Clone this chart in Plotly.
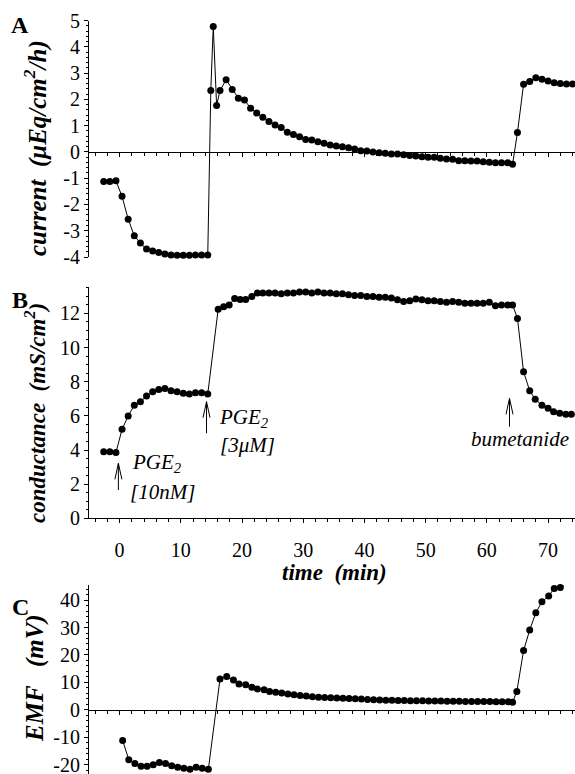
import plotly.graph_objects as go

# ---------------- data ----------------
A_time = [-2.6, -1.6, -0.6, 0.4, 1.4, 2.4, 3.4, 4.4, 5.4, 6.4, 7.4, 8.4, 9.4, 10.4, 11.4, 12.4, 13.4, 14.4,
          14.9, 15.3, 15.85, 16.4, 17.4, 18.4, 19.4, 20.4, 21.4, 22.4, 23.4, 24.4, 25.4,
          26.4, 27.4, 28.4, 29.4, 30.4, 31.4, 32.4, 33.4, 34.4, 35.4, 36.4, 37.4, 38.4, 39.4, 40.4,
          41.4, 42.4, 43.4, 44.4, 45.4, 46.4, 47.4, 48.4, 49.4, 50.4, 51.4, 52.4, 53.4, 54.4, 55.4,
          56.4, 57.4, 58.4, 59.4, 60.4, 61.4, 62.4, 63.4, 64.2,
          65.0, 66.0, 67.0, 68.0, 69.0, 70.0, 71.0, 72.0, 73.0, 74.0]
A_current = [-1.12, -1.12, -1.10, -1.69, -2.56, -3.19, -3.47, -3.70, -3.77, -3.83, -3.89, -3.92, -3.93, -3.93, -3.93, -3.92, -3.92, -3.92,
             2.34, 4.78, 1.77, 2.34, 2.75, 2.38, 2.05, 1.98, 1.67, 1.48, 1.32, 1.16, 1.03,
             0.93, 0.75, 0.67, 0.58, 0.48, 0.46, 0.39, 0.33, 0.27, 0.23, 0.20, 0.16, 0.11, 0.05, 0.04,
             0.00, -0.03, -0.05, -0.08, -0.08, -0.11, -0.13, -0.15, -0.18, -0.20, -0.20, -0.24, -0.27, -0.28, -0.33,
             -0.33, -0.34, -0.34, -0.37, -0.39, -0.41, -0.41, -0.41, -0.47,
             0.74, 2.58, 2.68, 2.83, 2.77, 2.70, 2.64, 2.61, 2.59, 2.59]

B_time = [-2.6, -1.6, -0.6, 0.4, 1.4, 2.4, 3.4, 4.4, 5.4, 6.4, 7.4, 8.4, 9.4, 10.4, 11.4, 12.4, 13.4, 14.4,
          16.1, 17.0, 17.9, 18.8, 19.7, 20.6, 21.6, 22.5,
          23.4, 24.4, 25.4, 26.4, 27.4, 28.4, 29.4, 30.4, 31.4, 32.4, 33.4, 34.4, 35.4, 36.4, 37.4,
          38.4, 39.4, 40.4, 41.4, 42.4, 43.4, 44.4, 45.4, 46.4, 47.4, 48.4, 49.4, 50.4, 51.4, 52.4,
          53.4, 54.4, 55.4, 56.4, 57.4, 58.4, 59.4, 60.4, 61.4, 62.4, 63.4, 64.2,
          65.0, 66.0, 67.0, 67.9, 69.0, 70.0, 70.9, 71.9, 72.9, 73.8]
B_conductance = [3.90, 3.90, 3.85, 5.21, 5.99, 6.63, 6.83, 7.16, 7.41, 7.55, 7.61, 7.47, 7.41, 7.32, 7.28, 7.35, 7.35, 7.28,
                 12.24, 12.39, 12.49, 12.88, 12.82, 12.82, 13.00, 13.20,
                 13.20, 13.20, 13.20, 13.15, 13.20, 13.20, 13.25, 13.25, 13.20, 13.25, 13.20, 13.20, 13.15, 13.15, 13.10,
                 13.05, 13.05, 13.00, 13.00, 12.95, 12.95, 12.90, 12.80, 12.70, 12.75, 12.85, 12.80, 12.75, 12.75, 12.70,
                 12.65, 12.70, 12.65, 12.60, 12.60, 12.60, 12.60, 12.65, 12.45, 12.50, 12.50, 12.50,
                 11.71, 8.58, 7.47, 6.97, 6.63, 6.44, 6.24, 6.15, 6.10, 6.10]

C_time = [0.5, 1.5, 2.5, 3.5, 4.5, 5.5, 6.5, 7.5, 8.5, 9.5, 10.5, 11.5, 12.5, 13.5, 14.5,
          16.4, 17.5, 18.6, 19.5, 20.6, 21.6, 22.5, 23.6, 24.5, 25.5, 26.5, 27.5, 28.5, 29.5, 30.5,
          31.5, 32.5, 33.5, 34.5, 35.5, 36.5, 37.5, 38.5, 39.5, 40.5, 41.5, 42.5, 43.5, 44.5, 45.5,
          46.5, 47.5, 48.5, 49.5, 50.5, 51.5, 52.5, 53.5, 54.5, 55.5, 56.5, 57.5, 58.5, 59.5, 60.5,
          61.5, 62.5, 63.5, 64.2,
          64.9, 66.0, 67.0, 68.0, 69.0, 70.1, 71.0, 72.0, 73.0, 73.9]
C_emf = [-11.2, -18.2, -19.6, -20.6, -20.6, -20.0, -19.2, -19.6, -20.4, -20.9, -21.3, -21.7, -20.9, -21.3, -21.7,
         11.2, 12.1, 10.9, 9.45, 9.1, 8.2, 7.6, 7.3, 6.7, 6.4, 6.1, 5.8, 5.5, 5.2, 5.0,
         4.8, 4.6, 4.5, 4.4, 4.3, 4.2, 4.1, 4.0, 3.9, 3.8, 3.7, 3.6, 3.5, 3.5, 3.4,
         3.4, 3.3, 3.3, 3.3, 3.2, 3.2, 3.2, 3.1, 3.1, 3.1, 3.0, 3.0, 3.0, 3.0, 3.0,
         2.9, 2.9, 2.9, 2.8,
         6.7, 21.6, 29.1, 35.4, 39.4, 41.5, 44.2, 44.6, 46.3, 46.3]

x_tickvals = [0, 10, 20, 30, 40, 50, 60, 70]
A_tickvals = [-4, -3, -2, -1, 0, 1, 2, 3, 4, 5]
B_tickvals = [0, 2, 4, 6, 8, 10, 12]
C_tickvals = [-20, -10, 0, 10, 20, 30, 40]

# event markers in panel B: (time, arrow head value, arrow tail value)
B_events = [(-0.2, 3.22, 1.66), (14.2, 6.83, 4.98), (63.7, 7.03, 5.37)]
B_labels = [(1.7, 3.24, "PGE<sub>2</sub>", "left"), (1.4, 1.54, "[10nM]", "left"),
            (15.9, 5.88, "PGE<sub>2</sub>", "left"), (16.1, 4.29, "[3\u03bcM]", "left"),
            (65.4, 4.62, "bumetanide", "center")]

# ---------------- layout geometry ----------------
W, H = 575, 774
AX_X = 89                     # x pixel of the y axes
X_RANGE = [-5, 74.4]
A_RANGE = [-4, 5]
B_RANGE = [0, 13.55]
C_RANGE = [-23.4, 45.5]
FONT = "Liberation Serif"


def yf(sy):
    """pixel y (from top) -> paper fraction"""
    return (H - sy) / H


def xf(sx):
    """pixel x -> paper fraction (plot area)"""
    return (sx - AX_X) / (W - AX_X)


A_dom = [yf(257), yf(20.7)]
B_dom = [yf(518.3), yf(287)]
C_dom = [0.0, yf(585)]


def zero_pos(dom, rng):
    return dom[0] + (0 - rng[0]) / (rng[1] - rng[0]) * (dom[1] - dom[0])


def ticktext(vals):
    return [str(v) for v in vals]


fig = go.Figure()
trace_style = dict(mode="lines+markers", line=dict(color="black", width=1),
                   marker=dict(color="black", size=7), cliponaxis=False, showlegend=False)
fig.add_trace(go.Scatter(x=A_time, y=A_current, xaxis="x", yaxis="y", **trace_style))
fig.add_trace(go.Scatter(x=B_time, y=B_conductance, xaxis="x2", yaxis="y2", **trace_style))
fig.add_trace(go.Scatter(x=C_time, y=C_emf, xaxis="x3", yaxis="y3", **trace_style))

tickfont = dict(family=FONT, size=20, color="black")
xcommon = dict(range=X_RANGE, domain=[0, 1], showline=True, linecolor="black", linewidth=1,
               ticks="outside", ticklen=4, tickcolor="black", tickvals=x_tickvals,
               ticktext=ticktext(x_tickvals), automargin=False,
               minor=dict(dtick=2, tick0=0, ticks="outside", ticklen=3, tickcolor="black"),
               showgrid=False, zeroline=False, tickfont=tickfont)
ycommon = dict(showline=True, linecolor="black", linewidth=1, ticks="outside", ticklen=4,
               tickcolor="black", showgrid=False, zeroline=False, tickfont=tickfont,
               automargin=False, ticklabeloverflow="allow")

fig.update_layout(
    width=W, height=H, margin=dict(l=AX_X, r=0, t=0, b=0, autoexpand=False),
    paper_bgcolor="white", plot_bgcolor="white",
    xaxis=dict(**xcommon, anchor="free", position=zero_pos(A_dom, A_RANGE), showticklabels=False),
    yaxis=dict(**ycommon, domain=A_dom, range=A_RANGE, anchor="x", tickvals=A_tickvals,
               ticktext=ticktext(A_tickvals),
               minor=dict(dtick=0.2, ticks="outside", ticklen=2, tickcolor="black")),
    xaxis2=dict(**xcommon, anchor="y2", showticklabels=True, ticklabelstandoff=10),
    yaxis2=dict(**ycommon, domain=B_dom, range=B_RANGE, anchor="x2", tickvals=B_tickvals,
                ticktext=ticktext(B_tickvals),
                minor=dict(dtick=0.5, ticks="outside", ticklen=2, tickcolor="black")),
    xaxis3=dict(**xcommon, anchor="free", position=zero_pos(C_dom, C_RANGE), showticklabels=False),
    yaxis3=dict(**ycommon, domain=C_dom, range=C_RANGE, anchor="x3", tickvals=C_tickvals,
                ticktext=ticktext(C_tickvals),
                minor=dict(dtick=2, ticks="outside", ticklen=2, tickcolor="black")),
)

ann = []
# panel letters
for letter, sy in [("A", 25), ("B", 300), ("C", 607)]:
    ann.append(dict(text="<b>%s</b>" % letter, x=xf(20), y=yf(sy), xref="paper", yref="paper",
                    xanchor="center", yanchor="middle",
                    showarrow=False, font=dict(family=FONT, size=24, color="black")))
# axis titles
titles = [("<b><i>current  (\u03bcEq/cm<sup>2</sup>/h)</i></b>", 148, 25),
          ("<b><i>conductance  (mS/cm<sup>2</sup>)</i></b>", 413, 23),
          ("<b><i>EMF \u00a0 (mV)</i></b>", 678, 25)]
for txt, sy, fs in titles:
    ann.append(dict(text=txt, x=xf(35), y=yf(sy), xref="paper", yref="paper", textangle=-90,
                    xanchor="center", yanchor="middle",
                    showarrow=False, font=dict(family=FONT, size=fs, color="black")))
ann.append(dict(text="<b><i>time  (min)</i></b>", x=xf(334), y=yf(572), xref="paper", yref="paper",
                xanchor="center", yanchor="middle",
                showarrow=False, font=dict(family=FONT, size=23, color="black")))
# panel B labels
for x, y, txt, anc in B_labels:
    ann.append(dict(text="<i>%s</i>" % txt, x=x, y=y, xref="x2", yref="y2", xanchor=anc,
                    yanchor="middle",
                    showarrow=False, font=dict(family=FONT, size=21, color="black")))
fig.update_layout(annotations=ann)

# arrows in panel B (open V heads)
px_per_min = (W - AX_X) / (X_RANGE[1] - X_RANGE[0])
px_per_unit = (B_dom[1] - B_dom[0]) * H / (B_RANGE[1] - B_RANGE[0])
dx = 3.5 / px_per_min
dy = 16 / px_per_unit
shapes = []
for t, head, tail in B_events:
    path = "M %f,%f L %f,%f M %f,%f L %f,%f L %f,%f" % (
        t, tail, t, head, t - dx, head - dy, t, head, t + dx, head - dy)
    shapes.append(dict(type="path", path=path, xref="x2", yref="y2",
                       line=dict(color="black", width=1)))
fig.update_layout(shapes=shapes)

# remove the default page margin so the figure sits at the window's top-left corner
fig.write_html("out.html", config={"displayModeBar": False},
               post_script="document.body.style.margin='0px';document.body.style.overflow='hidden';")
